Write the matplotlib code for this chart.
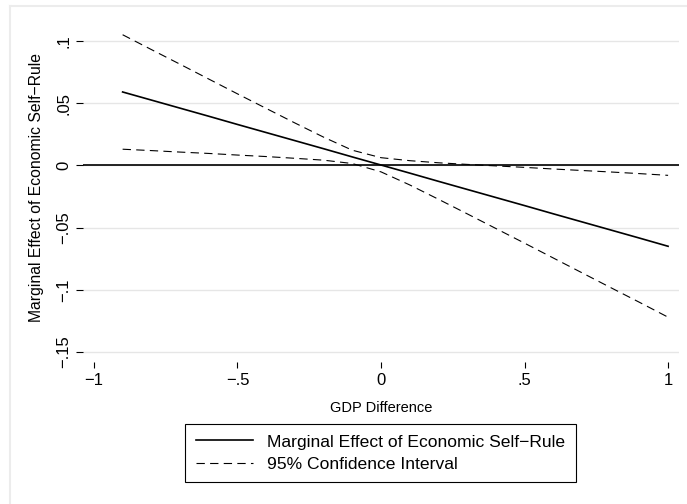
import matplotlib
matplotlib.use("Agg")
import matplotlib.pyplot as plt
from matplotlib.lines import Line2D

plt.rcParams['font.family'] = ['Liberation Sans', 'DejaVu Sans']
plt.rcParams['lines.scale_dashes'] = False
plt.rcParams['axes.unicode_minus'] = True

# GDP difference grid and the estimated marginal effect with its 95% CI
gdp_diff = [-0.9, -0.8, -0.7, -0.6, -0.5, -0.4, -0.3, -0.2, -0.1, 0.0,
            0.1, 0.2, 0.3, 0.4, 0.5, 0.6, 0.7, 0.8, 0.9, 1.0]
marginal_effect = [0.0590, 0.0525, 0.0460, 0.0395, 0.0329, 0.0264, 0.0199, 0.0134, 0.0068, 0.0003,
                   -0.0062, -0.0128, -0.0193, -0.0258, -0.0323, -0.0389, -0.0454, -0.0519, -0.0584, -0.0650]
ci_upper = [0.1050, 0.0931, 0.0813, 0.0694, 0.0575, 0.0458, 0.0341, 0.0227, 0.0122, 0.0062,
            0.0038, 0.0021, 0.0008, -0.0004, -0.0016, -0.0029, -0.0041, -0.0053, -0.0066, -0.0080]
ci_lower = [0.0130, 0.0119, 0.0107, 0.0096, 0.0083, 0.0071, 0.0057, 0.0042, 0.0015, -0.0052,
            -0.0157, -0.0272, -0.0389, -0.0507, -0.0625, -0.0744, -0.0863, -0.0982, -0.1100, -0.1220]

x_ticks = [-1, -0.5, 0, 0.5, 1]
x_tick_labels = ['\u22121', '\u2212.5', '0', '.5', '1']
y_ticks = [-0.15, -0.1, -0.05, 0, 0.05, 0.1]
y_tick_labels = ['\u2212.15', '\u2212.1', '\u2212.05', '0', '.05', '.1']

W, H = 687, 504
fig = plt.figure(figsize=(W / 100, H / 100), dpi=100)
fig.patch.set_facecolor('white')

# plot region in pixels
left, right, top, bottom = 83, 679, 31, 362
ax = fig.add_axes([left / W, 1 - bottom / H, (right - left) / W, (bottom - top) / H])
ax.set_xlim(-1.038, 1.038)
ax.set_ylim(-0.158, 0.108)
for s in ax.spines.values():
    s.set_visible(False)

ax.set_yticks(y_ticks)
ax.set_yticklabels(y_tick_labels, rotation=90, va='center', fontsize=12)
ax.set_xticks(x_ticks)
ax.set_xticklabels(x_tick_labels, fontsize=12)
ax.tick_params(axis='y', length=5, width=0.8, color='black', pad=3.5)
ax.tick_params(axis='x', length=4.5, width=0.8, color='black', pad=3.5)
ax.grid(axis='y', color='#e6e6e6', linewidth=1.0)
ax.set_axisbelow(True)

ax.axhline(0, color='black', linewidth=1.2, zorder=2)

dash = (0, (6, 3.8))
ax.plot(gdp_diff, marginal_effect, color='black', linewidth=1.2, zorder=3,
        label='Marginal Effect of Economic Self\u2212Rule')
ax.plot(gdp_diff, ci_upper, color='black', linewidth=0.8, linestyle=dash, zorder=3,
        label='95% Confidence Interval')
ax.plot(gdp_diff, ci_lower, color='black', linewidth=0.8, linestyle=dash, zorder=3)

ax.set_xlabel('GDP Difference', fontsize=10.5)
ax.set_ylabel('Marginal Effect of Economic Self\u2212Rule', fontsize=11.3)
# axis title positions (pixels converted to axes fractions)
ax.xaxis.set_label_coords(0.5, (bottom - 408) / (bottom - top), transform=ax.transAxes)
ax.yaxis.set_label_coords((37 - left) / (right - left), (bottom - 187) / (bottom - top),
                          transform=ax.transAxes)
ax.xaxis.label.set_va('center')
ax.yaxis.label.set_va('center')

handles = [Line2D([], [], color='black', linewidth=1.2),
           Line2D([], [], color='black', linewidth=0.8, linestyle=dash)]
leg = fig.legend(handles, ['Marginal Effect of Economic Self\u2212Rule', '95% Confidence Interval'],
                 loc='center', bbox_to_anchor=(380.5 / W, 1 - 453 / H),
                 frameon=True, fancybox=False, edgecolor='black', framealpha=1,
                 fontsize=12.6, handlelength=3.3, handletextpad=0.8,
                 borderpad=0.6, labelspacing=0.4)
leg.get_frame().set_linewidth(0.8)

# light outer border of the graph region
fig.add_artist(Line2D([10 / W, 10 / W], [0, 1 - 6 / H], color='#ececec', linewidth=1.5))
fig.add_artist(Line2D([10 / W, 1], [1 - 6 / H, 1 - 6 / H], color='#ececec', linewidth=1.5))

fig.savefig('out.png', dpi=100, facecolor='white')
